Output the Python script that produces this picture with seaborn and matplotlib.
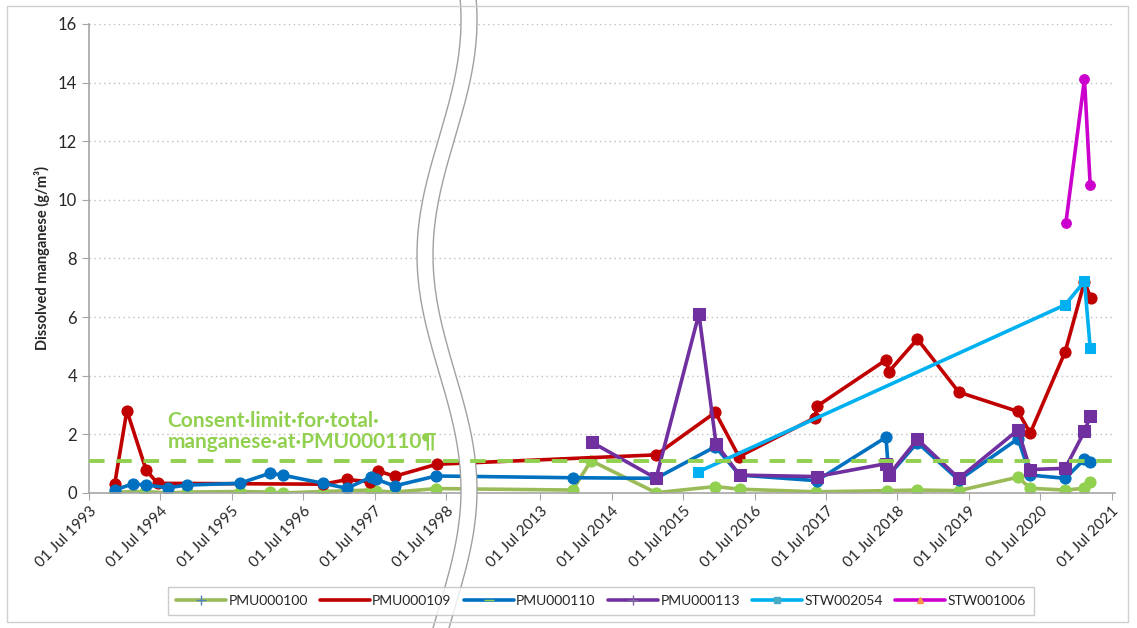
import numpy as np
import matplotlib
matplotlib.use("Agg")
import matplotlib.pyplot as plt
import seaborn as sns
from matplotlib.lines import Line2D
from matplotlib.patches import Polygon, Rectangle

# decimal years and dissolved manganese (g/m3) per monitoring site
pmu100_t = [1993.86, 1994.28, 1994.61, 1994.87, 1995.61, 1996.03, 1996.21, 1996.78, 1997.45, 1997.52,
             1997.78, 1998.36, 2013.95, 2014.21, 2015.12, 2015.95, 2016.29, 2017.36, 2018.36, 2018.78,
             2019.36, 2020.19, 2020.36, 2020.85, 2021.12, 2021.20]
pmu100_v = [0.03, 0.05, 0.0, 0.03, 0.05, 0.03, 0.0, 0.05, 0.1, 0.07,
            0.03, 0.15, 0.1, 1.1, 0.01, 0.22, 0.13, 0.04, 0.08, 0.1,
            0.08, 0.54, 0.16, 0.1, 0.16, 0.39]

pmu109_t = [1993.86, 1994.03, 1994.30, 1994.46, 1996.78, 1997.12, 1997.43, 1997.55, 1997.78, 1998.37,
            2015.12, 2015.95, 2016.28, 2017.34, 2017.38, 2018.34, 2018.38, 2018.78, 2019.36, 2020.19,
            2020.36, 2020.85, 2021.12, 2021.21]
pmu109_v = [0.31, 2.81, 0.78, 0.33, 0.3, 0.46, 0.38, 0.75, 0.57, 0.98,
            1.3, 2.75, 1.24, 2.56, 2.97, 4.54, 4.14, 5.25, 3.44, 2.78,
            2.04, 4.82, 7.21, 6.64]

pmu110_t = [1993.86, 1994.11, 1994.30, 1994.61, 1994.87, 1995.61, 1996.03, 1996.21, 1996.78, 1997.11,
            1997.45, 1997.52, 1997.78, 1998.36, 2013.95, 2015.12, 2015.95, 2016.29, 2017.37, 2018.34,
            2018.38, 2018.78, 2019.36, 2020.19, 2020.36, 2020.85, 2021.12, 2021.20]
pmu110_v = [0.1, 0.31, 0.27, 0.18, 0.27, 0.33, 0.67, 0.61, 0.33, 0.16,
            0.54, 0.47, 0.24, 0.58, 0.52, 0.5, 1.58, 0.61, 0.42, 1.9,
            0.6, 1.72, 0.44, 1.85, 0.61, 0.5, 1.15, 1.07]

pmu113_t = [2014.22, 2015.12, 2015.72, 2015.96, 2016.29, 2017.37, 2018.34, 2018.38, 2018.78, 2019.36,
            2020.19, 2020.36, 2020.85, 2021.12, 2021.20]
pmu113_v = [1.73, 0.5, 6.11, 1.67, 0.61, 0.56, 1.0, 0.62, 1.83, 0.5,
            2.15, 0.8, 0.84, 2.1, 2.62]

stw2054_t = [2015.71, 2020.85, 2021.12, 2021.20]
stw2054_v = [0.72, 6.42, 7.22, 4.95]

stw1006_t = [2020.86, 2021.12, 2021.20]
stw1006_v = [9.22, 14.12, 10.51]

consent_limit = 1.1
tick_years = [1993, 1994, 1995, 1996, 1997, 1998, 2013, 2014, 2015, 2016, 2017, 2018, 2019, 2020, 2021]

# broken time axis: squeeze 1998-2012 into a small gap
T1, T2, SHIFT = 1998.8, 2012.6, 13.678


def fwd(t):
    t = np.asarray(t, dtype=float)
    mid = T1 + (t - T1) * (T2 - SHIFT - T1) / (T2 - T1)
    return np.where(t <= T1, t, np.where(t >= T2, t - SHIFT, mid))


def inv(u):
    u = np.asarray(u, dtype=float)
    mid = T1 + (u - T1) * (T2 - T1) / (T2 - SHIFT - T1)
    return np.where(u <= T1, u, np.where(u >= T2 - SHIFT, u + SHIFT, mid))


sns.set_style("white")
plt.rcParams["font.family"] = ["Lato", "DejaVu Sans"]

fig = plt.figure(figsize=(11.37, 6.28), dpi=100)
ax = fig.add_axes([0.0783, 0.215, 0.9025, 0.7468])
ax.set_xscale("function", functions=(fwd, inv))

series = [
    ("PMU000100", pmu100_t, pmu100_v, "#9BBB59", "o", "#92D050", 8),
    ("PMU000109", pmu109_t, pmu109_v, "#C00000", "o", "#C00000", 8),
    ("PMU000110", pmu110_t, pmu110_v, "#0070C0", "o", "#0070C0", 8),
    ("PMU000113", pmu113_t, pmu113_v, "#7030A0", "s", "#7030A0", 8.5),
    ("STW002054", stw2054_t, stw2054_v, "#00B0F0", "s", "#00B0F0", 7.5),
    ("STW001006", stw1006_t, stw1006_v, "#CC00CC", "o", "#CC00CC", 7),
]
for name, t, v, lc, mk, mc, ms in series:
    sns.lineplot(x=t, y=v, ax=ax, color=lc, lw=2.6, marker=mk, markersize=ms,
                 markerfacecolor=mc, markeredgecolor=mc, sort=False, estimator=None,
                 legend=False)

ax.axhline(consent_limit, color="#92D050", lw=2.8, ls=(0, (4, 3)), zorder=6)
ax.text(1994.6, 2.1, "Consent·limit·for·total·\nmanganese·at·PMU000110¶", color="#92D050",
        fontsize=15, fontweight="bold", va="center", ha="left", linespacing=1.05)

ax.set_xlim(1993.5, 2021.55)
ax.set_ylim(0, 16)
ax.set_yticks(range(0, 17, 2))
ax.set_xticks([y + 0.5 for y in tick_years])
ax.set_xticklabels([f"01 Jul {y}" for y in tick_years], rotation=45, ha="right",
                   rotation_mode="anchor", fontsize=11)
ax.tick_params(axis="y", labelsize=12, length=5, color="#A6A6A6", left=True)
ax.tick_params(axis="x", length=5, color="#A6A6A6", bottom=True, pad=3)
ax.xaxis.set_minor_locator(matplotlib.ticker.NullLocator())
ax.grid(axis="y", ls=(0, (1, 2.5)), color="#BFBFBF", lw=1)
ax.set_ylabel("Dissolved manganese (g/m³)", fontsize=10.5, fontweight="bold", labelpad=6)
for s in ["top", "right"]:
    ax.spines[s].set_visible(False)
for s in ["left", "bottom"]:
    ax.spines[s].set_color("#A6A6A6")
    ax.spines[s].set_linewidth(1.2)

# wavy break band across the gap
ypx = np.linspace(0, 628, 200)
xc = 440 + 22 * np.cos(2 * np.pi * (ypx - 20) / 470)
W, H = 1137.0, 628.0
left_edge = np.column_stack([(xc - 1) / W, 1 - ypx / H])
right_edge = np.column_stack([(xc + 15) / W, 1 - ypx / H])
band = Polygon(np.vstack([left_edge, right_edge[::-1]]), closed=True, facecolor="white",
               edgecolor="none", transform=fig.transFigure, clip_on=False, zorder=4)
ax.add_artist(band)
for edge in (left_edge, right_edge):
    ax.add_artist(Line2D(edge[:, 0], edge[:, 1], color="#A0A0A0", lw=1,
                         transform=fig.transFigure, clip_on=False, zorder=4.5))

handles = [
    Line2D([], [], color="#9BBB59", lw=2.6, marker="+", markersize=7, markeredgecolor="#4F81BD"),
    Line2D([], [], color="#C00000", lw=2.6),
    Line2D([], [], color="#0070C0", lw=2.6, marker="_", markersize=7, markeredgecolor="#92D050"),
    Line2D([], [], color="#7030A0", lw=2.6, marker="+", markersize=7, markeredgecolor="#8064A2"),
    Line2D([], [], color="#00B0F0", lw=2.6, marker="s", markersize=4, markerfacecolor="#4BACC6",
           markeredgecolor="#4BACC6"),
    Line2D([], [], color="#CC00CC", lw=2.6, marker="^", markersize=5, markerfacecolor="#F79646",
           markeredgecolor="#F79646"),
]
labels = [s[0] for s in series]
leg = fig.legend(handles, labels, loc="center", bbox_to_anchor=(0.5286, 0.043), ncol=6,
                 fontsize=10, handlelength=3.6, handletextpad=0.15, columnspacing=0.9,
                 frameon=True, fancybox=False, edgecolor="#BFBFBF", borderpad=0.6)
leg.get_frame().set_linewidth(1)

fig.add_artist(Rectangle((7 / W, 1 - 622 / H), 1121 / W, 616 / H, transform=fig.transFigure,
                         fill=False, edgecolor="#D0D0D0", lw=1))

fig.savefig("out.png", dpi=100)
